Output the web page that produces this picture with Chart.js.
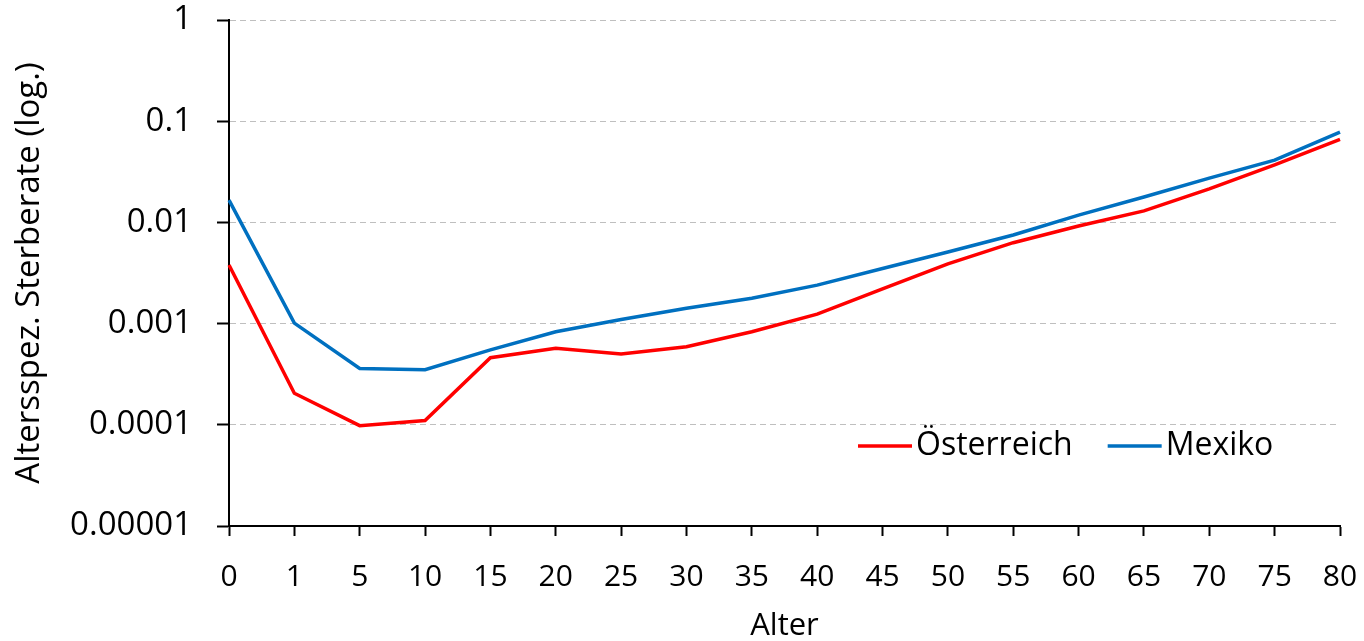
<!DOCTYPE html>
<html lang="de">
<head>
<meta charset="utf-8">
<title>Altersspezifische Sterberate</title>
<script src="https://cdn.jsdelivr.net/npm/chart.js@4.4.1/dist/chart.umd.min.js"></script>
<style>
  html, body { margin: 0; padding: 0; background: #fff; }
  #wrap { width: 1364px; height: 641px; }
</style>
</head>
<body>
<div id="wrap"><canvas id="c" width="1364" height="641"></canvas></div>
<script>
// Altersgruppen (Kategorien der x-Achse)
const ageGroups = ['0', '1', '5', '10', '15', '20', '25', '30', '35', '40', '45', '50', '55', '60', '65', '70', '75', '80'];

// Altersspezifische Sterberaten
const austriaRates = [0.0038, 0.000205, 0.000098, 0.00011, 0.00046, 0.00057, 0.0005, 0.00059, 0.00083, 0.00124,
                      0.0022, 0.0039, 0.0063, 0.0092, 0.013, 0.0214, 0.037, 0.066];
const mexicoRates = [0.0166, 0.00101, 0.00036, 0.00035, 0.00055, 0.00083, 0.0011, 0.00142, 0.00178, 0.0024,
                     0.0035, 0.0051, 0.0075, 0.0118, 0.0178, 0.0274, 0.0413, 0.078];

// Beschriftungen der logarithmischen Achse (Zehnerpotenzen)
const yTickValues = [0.00001, 0.0001, 0.001, 0.01, 0.1, 1];
const yTickLabels = ['0.00001', '0.0001', '0.001', '0.01', '0.1', '1'];

const seriesNames = ['Österreich', 'Mexiko'];
const seriesColors = ['#FF0000', '#0070C0'];

const FONT = "'Open Sans', 'DejaVu Sans', sans-serif";
const TEXT = '#000000';

// Legende innerhalb der Zeichenfläche, unten rechts
const innerLegend = {
  id: 'innerLegend',
  afterDatasetsDraw(chart) {
    const { ctx, chartArea } = chart;
    const y = chartArea.top + 426;
    let x = chartArea.left + 629;
    ctx.save();
    ctx.font = '32px ' + FONT;
    ctx.textBaseline = 'middle';
    ctx.fillStyle = TEXT;
    chart.data.datasets.forEach((ds) => {
      ctx.strokeStyle = ds.borderColor;
      ctx.lineWidth = 3.5;
      ctx.beginPath();
      ctx.moveTo(x, y);
      ctx.lineTo(x + 54, y);
      ctx.stroke();
      ctx.fillText(ds.label, x + 58, y);
      x += 58 + ctx.measureText(ds.label).width + 35;
    });
    ctx.restore();
  }
};

new Chart(document.getElementById('c'), {
  type: 'line',
  data: {
    labels: ageGroups,
    datasets: [
      { label: seriesNames[0], data: austriaRates, borderColor: seriesColors[0], backgroundColor: seriesColors[0],
        borderWidth: 3.5, pointRadius: 0, tension: 0, fill: false },
      { label: seriesNames[1], data: mexicoRates, borderColor: seriesColors[1], backgroundColor: seriesColors[1],
        borderWidth: 3.5, pointRadius: 0, tension: 0, fill: false }
    ]
  },
  options: {
    responsive: false,
    animation: false,
    layout: { padding: { left: 0, right: 24, top: 20, bottom: 0 } },
    plugins: {
      legend: { display: false },
      tooltip: { enabled: false }
    },
    scales: {
      x: {
        type: 'category',
        offset: false,
        border: { display: true, color: '#000', width: 2 },
        grid: {
          display: true,
          drawOnChartArea: false,
          drawTicks: true,
          tickLength: 10,
          tickColor: '#000',
          tickWidth: 2
        },
        ticks: {
          color: TEXT,
          font: { family: FONT, size: 30 },
          padding: 23,
          maxRotation: 0,
          autoSkip: false
        },
        title: {
          display: true,
          text: 'Alter',
          color: TEXT,
          font: { family: FONT, size: 31 },
          padding: { top: 0, bottom: -4 }
        },
        afterFit(scale) {
          scale.height = 115;
          scale.paddingLeft = 0;
          scale.paddingRight = 0;
        }
      },
      y: {
        type: 'logarithmic',
        min: yTickValues[0],
        max: yTickValues[yTickValues.length - 1],
        afterBuildTicks(scale) {
          scale.ticks = yTickValues.map(v => ({ value: v }));
        },
        border: { display: true, color: '#000', width: 2, dash: [6, 4] },
        grid: {
          color: '#BFBFBF',
          lineWidth: 1,
          drawTicks: true,
          tickLength: 12,
          tickColor: '#000',
          tickWidth: 2,
          tickBorderDash: []
        },
        ticks: {
          color: TEXT,
          font: { family: FONT, size: 33 },
          padding: 25,
          callback(value) {
            const i = yTickValues.findIndex(v => Math.abs(v - value) / v < 1e-6);
            return i >= 0 ? yTickLabels[i] : '';
          }
        },
        title: {
          display: true,
          text: 'Altersspez. Sterberate (log.)',
          color: TEXT,
          font: { family: FONT, size: 33 },
          padding: { top: 10, bottom: 8 }
        },
        afterFit(scale) {
          scale.width = 229;
          scale.paddingTop = 0;
          scale.paddingBottom = 0;
        }
      }
    }
  },
  plugins: [innerLegend]
});
</script>
</body>
</html>
